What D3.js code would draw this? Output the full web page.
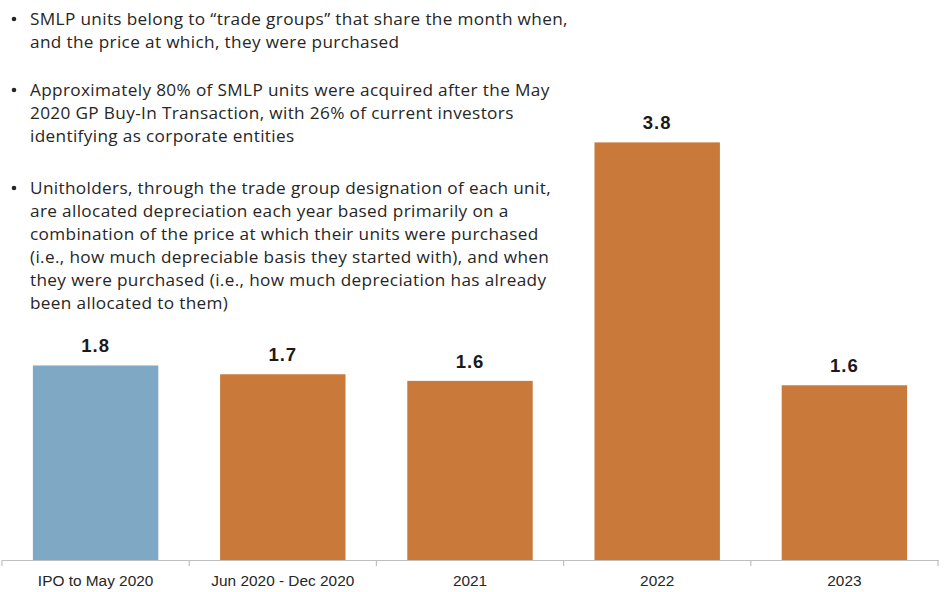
<!DOCTYPE html>
<html>
<head>
<meta charset="utf-8">
<script src="https://cdn.jsdelivr.net/npm/d3@7"></script>
<style>
  body { margin: 0; background: #fff; }
  #chart svg { display: block; }
</style>
</head>
<body>
<div id="chart"></div>
<script>
// Chart data
var categories = ["IPO to May 2020", "Jun 2020 - Dec 2020", "2021", "2022", "2023"];
var values = [1.77, 1.69, 1.63, 3.80, 1.59];
var barColors = ["#7fa8c5", "#c97a3a", "#c97a3a", "#c97a3a", "#c97a3a"];

// Bullet notes (line breaks as in the original)
var notes = [
  ["SMLP units belong to \u201ctrade groups\u201d that share the month when,",
   "and the price at which, they were purchased"],
  ["Approximately 80% of SMLP units were acquired after the May",
   "2020 GP Buy-In Transaction, with 26% of current investors",
   "identifying as corporate entities"],
  ["Unitholders, through the trade group designation of each unit,",
   "are allocated depreciation each year based primarily on a",
   "combination of the price at which their units were purchased",
   "(i.e., how much depreciable basis they started with), and when",
   "they were purchased (i.e., how much depreciation has already",
   "been allocated to them)"]
];
var noteTops = [25, 96, 194];

var width = 944, height = 592;
var baseline = 560;

var svg = d3.select("#chart")
  .append("svg")
  .attr("width", width)
  .attr("height", height);

// Scales
var x = d3.scaleBand()
  .domain(categories)
  .range([2, 938])
  .paddingInner(0.33)
  .paddingOuter(0.165);

var y = d3.scaleLinear()
  .domain([0, 4])
  .range([baseline, baseline - 439.6]);

// Bars
svg.selectAll(".bar")
  .data(values)
  .enter().append("rect")
  .attr("class", "bar")
  .attr("x", (d, i) => x(categories[i]))
  .attr("y", d => y(d))
  .attr("width", x.bandwidth())
  .attr("height", d => y(0) - y(d))
  .attr("fill", (d, i) => barColors[i]);

// Value labels
svg.selectAll(".label")
  .data(values)
  .enter().append("text")
  .attr("class", "label")
  .attr("x", (d, i) => x(categories[i]) + x.bandwidth() / 2)
  .attr("y", d => y(d) - 13)
  .attr("text-anchor", "middle")
  .attr("font-family", "Liberation Sans, Arial, sans-serif")
  .attr("font-weight", "bold")
  .attr("font-size", 18.5)
  .attr("letter-spacing", 1)
  .attr("fill", "#1a1a1a")
  .text(d => d3.format(".1f")(d));

// X axis with ticks between categories
var axis = svg.append("g")
  .attr("transform", "translate(0," + baseline + ")")
  .call(d3.axisBottom(x).tickSize(0).tickPadding(15));

axis.select(".domain").attr("stroke", "#bfbfbf").attr("stroke-width", 1.2);
axis.selectAll("text")
  .attr("font-family", "Liberation Sans, Arial, sans-serif")
  .attr("font-size", 15.4)
  .attr("fill", "#262626");

var gap = (x.step() - x.bandwidth()) / 2;
var bounds = categories.map(c => x(c) - gap);
bounds.push(x(categories[categories.length - 1]) + x.bandwidth() + gap);

axis.selectAll(".sep")
  .data(bounds)
  .enter().append("line")
  .attr("class", "sep")
  .attr("x1", d => d)
  .attr("x2", d => d)
  .attr("y1", 0)
  .attr("y2", 6)
  .attr("stroke", "#bfbfbf")
  .attr("stroke-width", 1.2);

// Bullet notes
var noteG = svg.append("g")
  .attr("font-family", "Open Sans, sans-serif")
  .attr("font-size", 17.2)
  .attr("letter-spacing", 0.35)
  .attr("fill", "#262626");

notes.forEach(function(lines, k) {
  noteG.append("circle")
    .attr("cx", 14)
    .attr("cy", noteTops[k] - 6)
    .attr("r", 2.3)
    .attr("fill", "#262626");
  lines.forEach(function(line, j) {
    noteG.append("text")
      .attr("x", 30)
      .attr("y", noteTops[k] + j * 23)
      .text(line);
  });
});
</script>
</body>
</html>
